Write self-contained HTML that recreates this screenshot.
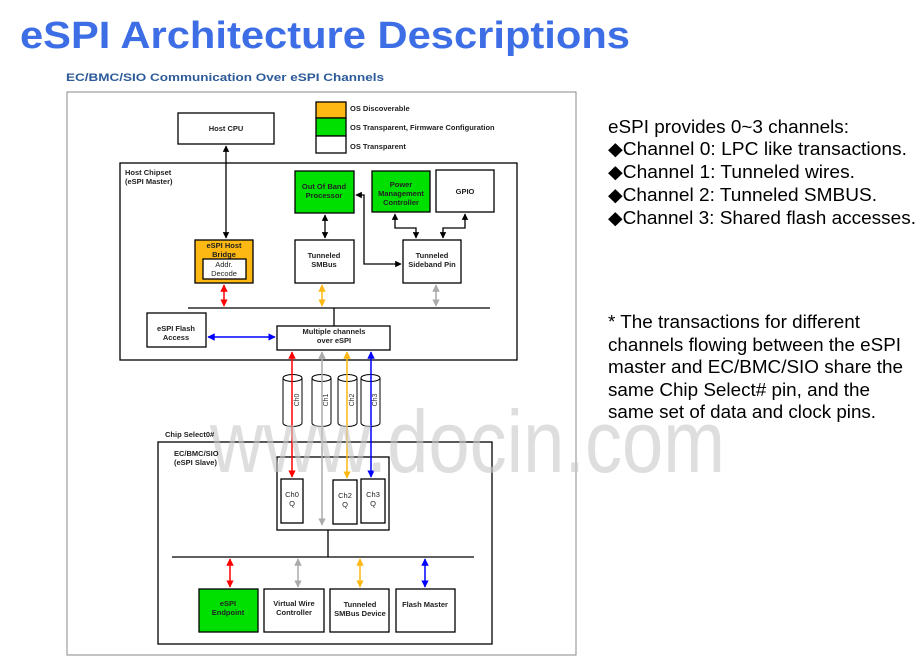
<!DOCTYPE html>
<html><head><meta charset="utf-8"><style>
body{margin:0;width:922px;height:671px;background:#fff;overflow:hidden}
svg{display:block}
.t{font-family:"Liberation Sans",sans-serif}
.s{font-family:"Liberation Sans",sans-serif;font-size:7.5px;font-weight:bold;fill:#222}
.r{font-family:"Liberation Sans",sans-serif;font-size:18.5px;fill:#000}
</style></head><body>
<svg width="922" height="671" viewBox="0 0 922 671" xmlns="http://www.w3.org/2000/svg">
<defs>
<marker id="k" viewBox="0 0 10 10" refX="9" refY="5" markerWidth="5" markerHeight="5" orient="auto-start-reverse"><path d="M0,0L10,5L0,10z" fill="#000"/></marker>
<marker id="rd" viewBox="0 0 10 10" refX="9" refY="5" markerWidth="5" markerHeight="5" orient="auto-start-reverse"><path d="M0,0L10,5L0,10z" fill="#f00"/></marker>
<marker id="or" viewBox="0 0 10 10" refX="9" refY="5" markerWidth="5" markerHeight="5" orient="auto-start-reverse"><path d="M0,0L10,5L0,10z" fill="#fdb813"/></marker>
<marker id="gy" viewBox="0 0 10 10" refX="9" refY="5" markerWidth="5" markerHeight="5" orient="auto-start-reverse"><path d="M0,0L10,5L0,10z" fill="#aaa"/></marker>
<marker id="bl" viewBox="0 0 10 10" refX="9" refY="5" markerWidth="5" markerHeight="5" orient="auto-start-reverse"><path d="M0,0L10,5L0,10z" fill="#00f"/></marker>
</defs>
<text x="20" y="48" class="t" font-size="38" font-weight="bold" fill="#3d6ee6" textLength="610" lengthAdjust="spacingAndGlyphs">eSPI Architecture Descriptions</text>
<text x="66" y="81" class="t" font-size="11" font-weight="bold" fill="#2d5b9a" textLength="318" lengthAdjust="spacingAndGlyphs">EC/BMC/SIO Communication Over eSPI Channels</text>
<rect x="67" y="92" width="509" height="563" fill="#fff" stroke="#888" stroke-width="1"/>
<g stroke="#000" stroke-width="1.3" fill="#fff">
<rect x="316" y="102" width="30" height="16" fill="#fdb813"/>
<rect x="316" y="118" width="30" height="18" fill="#00e000"/>
<rect x="316" y="136" width="30" height="17"/>
<rect x="178" y="113" width="96" height="31"/>
<rect x="120" y="163" width="397" height="197"/>
<rect x="295" y="171" width="59" height="42" fill="#00e000"/>
<rect x="372" y="171" width="58" height="41" fill="#00e000"/>
<rect x="436" y="170" width="58" height="42"/>
<rect x="195" y="240" width="58" height="43" fill="#fdb813"/>
<rect x="203" y="259" width="43" height="20"/>
<rect x="295" y="240" width="59" height="43"/>
<rect x="403" y="240" width="58" height="43"/>
<rect x="147" y="313" width="59" height="34"/>
<rect x="277" y="326" width="113" height="24"/>
<rect x="158" y="442" width="334" height="202"/>
<rect x="277" y="457" width="112" height="73"/>
<rect x="281" y="479" width="22" height="44"/>
<rect x="333" y="480" width="24" height="44"/>
<rect x="361" y="479" width="24" height="44"/>
<rect x="199" y="589" width="59" height="43" fill="#00e000"/>
<rect x="264" y="589" width="60" height="43"/>
<rect x="330" y="589" width="59" height="43"/>
<rect x="396" y="589" width="59" height="43"/>
</g>
<g stroke="#000" stroke-width="1.3" fill="none">
<line x1="188" y1="308" x2="490" y2="308"/>
<line x1="334" y1="308" x2="334" y2="326"/>
<line x1="172" y1="557" x2="474" y2="557"/>
<line x1="328" y1="530" x2="328" y2="557"/>
<line x1="226" y1="146" x2="226" y2="238" marker-start="url(#k)" marker-end="url(#k)"/>
<line x1="325" y1="215" x2="325" y2="238" marker-start="url(#k)" marker-end="url(#k)"/>
<polyline points="401,264 364,264 364,195 356,195" marker-start="url(#k)" marker-end="url(#k)"/>
<polyline points="395,214 395,228 416,228 416,238" marker-start="url(#k)" marker-end="url(#k)"/>
<polyline points="465,214 465,228 443,228 443,238" marker-start="url(#k)" marker-end="url(#k)"/>
</g>
<g stroke-width="1.5" fill="none">
<line x1="224" y1="285" x2="224" y2="306" stroke="#f00" marker-start="url(#rd)" marker-end="url(#rd)"/>
<line x1="322" y1="285" x2="322" y2="306" stroke="#fdb813" marker-start="url(#or)" marker-end="url(#or)"/>
<line x1="436" y1="285" x2="436" y2="306" stroke="#aaa" marker-start="url(#gy)" marker-end="url(#gy)"/>
<line x1="208" y1="337" x2="275" y2="337" stroke="#00f" marker-start="url(#bl)" marker-end="url(#bl)"/>
<line x1="230" y1="559" x2="230" y2="587" stroke="#f00" marker-start="url(#rd)" marker-end="url(#rd)"/>
<line x1="298" y1="559" x2="298" y2="587" stroke="#aaa" marker-start="url(#gy)" marker-end="url(#gy)"/>
<line x1="360" y1="559" x2="360" y2="587" stroke="#fdb813" marker-start="url(#or)" marker-end="url(#or)"/>
<line x1="425" y1="559" x2="425" y2="587" stroke="#00f" marker-start="url(#bl)" marker-end="url(#bl)"/>
</g>
<g stroke="#000" stroke-width="1" fill="#fff">
<path d="M283,378 v45 a9.5,3.5 0 0 0 19,0 v-45"/><ellipse cx="292.5" cy="378" rx="9.5" ry="3.5"/>
<path d="M312,378 v45 a9.5,3.5 0 0 0 19,0 v-45"/><ellipse cx="321.5" cy="378" rx="9.5" ry="3.5"/>
<path d="M338,378 v45 a9.5,3.5 0 0 0 19,0 v-45"/><ellipse cx="347.5" cy="378" rx="9.5" ry="3.5"/>
<path d="M361,378 v45 a9.5,3.5 0 0 0 19,0 v-45"/><ellipse cx="370.5" cy="378" rx="9.5" ry="3.5"/>
</g>
<g class="t" font-size="7" fill="#333">
<text transform="translate(299,400) rotate(-90)" text-anchor="middle">Ch0</text>
<text transform="translate(328,400) rotate(-90)" text-anchor="middle">Ch1</text>
<text transform="translate(354,400) rotate(-90)" text-anchor="middle">Ch2</text>
<text transform="translate(377,400) rotate(-90)" text-anchor="middle">Ch3</text>
</g>
<g stroke-width="1.5" fill="none">
<line x1="292" y1="352" x2="292" y2="477" stroke="#f00" marker-start="url(#rd)" marker-end="url(#rd)"/>
<line x1="322" y1="352" x2="322" y2="525" stroke="#aaa" marker-start="url(#gy)" marker-end="url(#gy)"/>
<line x1="347" y1="352" x2="347" y2="478" stroke="#fdb813" marker-start="url(#or)" marker-end="url(#or)"/>
<line x1="371" y1="352" x2="371" y2="477" stroke="#00f" marker-start="url(#bl)" marker-end="url(#bl)"/>
</g>
<text x="210" y="472" class="t" font-size="88" fill="#c8c8c8" fill-opacity="0.6" textLength="515" lengthAdjust="spacingAndGlyphs">www.docin.com</text>
<g class="s">
<text x="350" y="111">OS Discoverable</text>
<text x="350" y="130">OS Transparent, Firmware Configuration</text>
<text x="350" y="149">OS Transparent</text>
<text x="226" y="131" text-anchor="middle">Host CPU</text>
<text x="125" y="175">Host Chipset</text>
<text x="125" y="184">(eSPI Master)</text>
<text x="324" y="189" text-anchor="middle">Out Of Band</text>
<text x="324" y="198" text-anchor="middle">Processor</text>
<text x="401" y="187" text-anchor="middle">Power</text>
<text x="401" y="196" text-anchor="middle">Management</text>
<text x="401" y="205" text-anchor="middle">Controller</text>
<text x="465" y="194" text-anchor="middle">GPIO</text>
<text x="224" y="248" text-anchor="middle">eSPI Host</text>
<text x="224" y="257" text-anchor="middle">Bridge</text>
<text x="224" y="267" text-anchor="middle" font-weight="normal">Addr.</text>
<text x="224" y="276" text-anchor="middle" font-weight="normal">Decode</text>
<text x="324" y="258" text-anchor="middle">Tunneled</text>
<text x="324" y="267" text-anchor="middle">SMBus</text>
<text x="432" y="258" text-anchor="middle">Tunneled</text>
<text x="432" y="267" text-anchor="middle">Sideband Pin</text>
<text x="176" y="331" text-anchor="middle">eSPI Flash</text>
<text x="176" y="340" text-anchor="middle">Access</text>
<text x="334" y="334" text-anchor="middle">Multiple channels</text>
<text x="334" y="343" text-anchor="middle">over eSPI</text>
<text x="165" y="437">Chip Select0#</text>
<text x="174" y="456">EC/BMC/SIO</text>
<text x="174" y="465">(eSPI Slave)</text>
<text x="292" y="497" text-anchor="middle" font-weight="normal">Ch0</text>
<text x="292" y="506" text-anchor="middle" font-weight="normal">Q</text>
<text x="345" y="498" text-anchor="middle" font-weight="normal">Ch2</text>
<text x="345" y="507" text-anchor="middle" font-weight="normal">Q</text>
<text x="373" y="497" text-anchor="middle" font-weight="normal">Ch3</text>
<text x="373" y="506" text-anchor="middle" font-weight="normal">Q</text>
<text x="228" y="606" text-anchor="middle">eSPI</text>
<text x="228" y="615" text-anchor="middle">Endpoint</text>
<text x="294" y="606" text-anchor="middle">Virtual Wire</text>
<text x="294" y="615" text-anchor="middle">Controller</text>
<text x="360" y="607" text-anchor="middle">Tunneled</text>
<text x="360" y="616" text-anchor="middle">SMBus Device</text>
<text x="425" y="607" text-anchor="middle">Flash Master</text>
</g>
<g class="r" lengthAdjust="spacingAndGlyphs">
<text x="608" y="133" textLength="241" lengthAdjust="spacingAndGlyphs">eSPI provides 0~3 channels:</text>
<text x="608" y="155" textLength="299" lengthAdjust="spacingAndGlyphs">◆Channel 0: LPC like transactions.</text>
<text x="608" y="178" textLength="247" lengthAdjust="spacingAndGlyphs">◆Channel 1: Tunneled wires.</text>
<text x="608" y="201" textLength="269" lengthAdjust="spacingAndGlyphs">◆Channel 2: Tunneled SMBUS.</text>
<text x="608" y="224" textLength="308" lengthAdjust="spacingAndGlyphs">◆Channel 3: Shared flash accesses.</text>
<text x="608" y="328" textLength="252" lengthAdjust="spacingAndGlyphs">* The transactions for different</text>
<text x="608" y="351" textLength="293" lengthAdjust="spacingAndGlyphs">channels flowing between the eSPI</text>
<text x="608" y="373" textLength="295" lengthAdjust="spacingAndGlyphs">master and EC/BMC/SIO share the</text>
<text x="608" y="396" textLength="262" lengthAdjust="spacingAndGlyphs">same Chip Select# pin, and the</text>
<text x="608" y="418" textLength="268" lengthAdjust="spacingAndGlyphs">same set of data and clock pins.</text>
</g>
</svg>
</body></html>
